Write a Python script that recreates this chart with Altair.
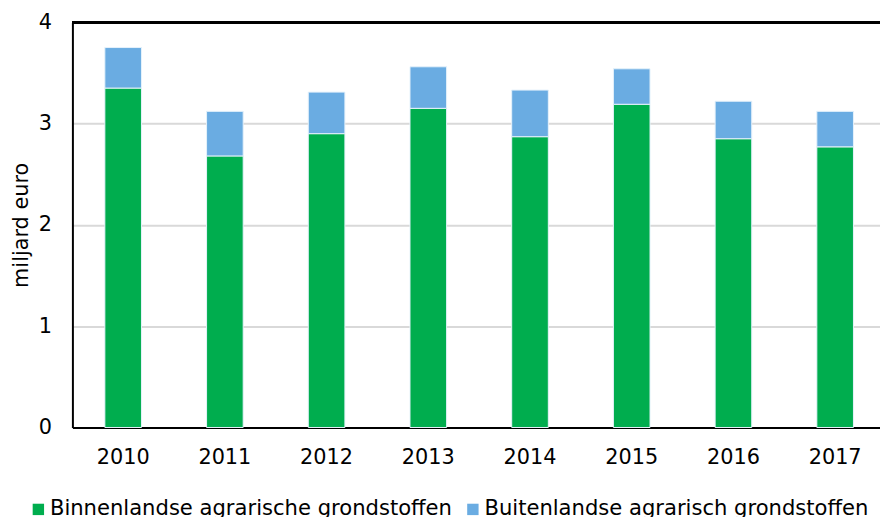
import altair as alt
import pandas as pd

years = ["2010", "2011", "2012", "2013", "2014", "2015", "2016", "2017"]
binnen = [3.35, 2.68, 2.90, 3.15, 2.87, 3.19, 2.85, 2.77]
buiten = [0.40, 0.44, 0.41, 0.41, 0.46, 0.35, 0.37, 0.35]
series = ["Binnenlandse agrarische grondstoffen", "Buitenlandse agrarisch grondstoffen"]
colors = ["#00ad4e", "#6aace2"]

rows = []
for i, y in enumerate(years):
    rows.append({"jaar": y, "reeks": series[0], "waarde": binnen[i], "volg": 0})
    rows.append({"jaar": y, "reeks": series[1], "waarde": buiten[i], "volg": 1})
df = pd.DataFrame(rows)

FONT = "DejaVu Sans"
FS = 21

bars = alt.Chart(df).mark_bar(stroke="#e6f2fb", strokeWidth=1).encode(
    x=alt.X("jaar:N", sort=years, title=None,
            scale=alt.Scale(paddingInner=0.64, paddingOuter=0.29, align=0.55),
            axis=alt.Axis(labelAngle=0, ticks=False, labelPadding=19,
                          domainColor="#000000", domainWidth=2,
                          labelFont=FONT, labelFontSize=FS, labelColor="#000000")),
    y=alt.Y("waarde:Q", stack="zero", title="miljard euro",
            scale=alt.Scale(domain=[0, 4], nice=False),
            axis=alt.Axis(values=[0, 1, 2, 3, 4], format="d", ticks=False, labelPadding=21,
                          domainColor="#000000", domainWidth=2,
                          gridColor="#d9d9d9", gridWidth=2,
                          labelFont=FONT, labelFontSize=FS, labelColor="#000000",
                          titleFont=FONT, titleFontSize=FS, titleFontWeight="normal",
                          titleColor="#000000", titleX=-51, titleY=204.5,
                          titleAngle=270, titleAlign="center", titleBaseline="middle")),
    color=alt.Color("reeks:N", sort=series, title=None,
                    scale=alt.Scale(domain=series, range=colors),
                    legend=alt.Legend(orient="none", legendX=-45, legendY=481,
                                      direction="horizontal", symbolType="square",
                                      symbolSize=132, symbolStrokeWidth=0,
                                      labelOffset=1, columnPadding=9.5,
                                      labelLimit=0, labelFont=FONT,
                                      labelFontSize=21.3, labelColor="#000000")),
    order=alt.Order("volg:Q", sort="ascending"),
)

top_line = alt.Chart(df).mark_rule(color="#000000", strokeWidth=2).encode(
    y=alt.datum(4)
)

chart = alt.layer(bars, top_line).properties(
    width=815,
    height=409,
    autosize=alt.AutoSizeParams(type="none"),
    padding={"left": 65, "top": 12, "right": 0, "bottom": 88},
).configure_view(stroke=None)

chart.save("out.html", embed_options={"renderer": "svg", "actions": False})
